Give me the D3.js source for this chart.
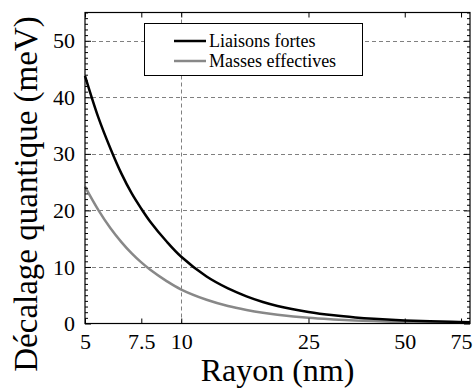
<!DOCTYPE html>
<html>
<head>
<meta charset="utf-8">
<script src="https://cdn.jsdelivr.net/npm/d3@7"></script>
<style>
  html, body { margin: 0; padding: 0; background: #fff; }
  svg { display: block; }
</style>
</head>
<body>
<svg id="chart" width="476" height="388"></svg>
<script>
// ---- data ----
const radius = [5, 5.5, 6, 6.5, 7, 7.5, 8, 9, 10, 12, 14, 16, 18, 20, 25, 30, 35, 40, 50, 60, 70, 80];
const liaisonsFortes = [43.8, 36.5, 31.0, 26.5, 23.0, 20.3, 18.0, 14.5, 11.8, 8.3, 6.2, 4.8, 3.8, 3.1, 2.05, 1.45, 1.08, 0.84, 0.55, 0.39, 0.29, 0.23];
const massesEffectives = [24.2, 20.1, 16.9, 14.4, 12.4, 10.8, 9.5, 7.5, 6.0, 4.2, 3.1, 2.4, 1.9, 1.55, 1.0, 0.72, 0.54, 0.42, 0.27, 0.19, 0.14, 0.11];
const seriesNames = ["Liaisons fortes", "Masses effectives"];
const seriesColors = ["#000000", "#888888"];
const xTicks = [5, 7.5, 10, 25, 50, 75];
const xTickLabels = ["5", "7.5", "10", "25", "50", "75"];
const yTicks = [0, 10, 20, 30, 40, 50];
const xGrid = [10];
const yGrid = [10, 20, 30, 40, 50];
const xLabel = "Rayon (nm)";
const yLabel = "Décalage quantique (meV)";

// ---- layout ----
const L = 85, R = 470, T = 12.5, B = 323.5;
const FONT = "'Liberation Serif'";
const svg = d3.select("#chart");

const x = d3.scaleLog().domain([5, 80]).range([L, R]);
const y = d3.scaleLinear().domain([0, 55]).range([B, T]);

// grid
const grid = svg.append("g").attr("stroke", "#808080").attr("stroke-width", 1).attr("stroke-dasharray", "4,3");
grid.selectAll("line.gy").data(yGrid).join("line")
  .attr("x1", L).attr("x2", R).attr("y1", d => Math.round(y(d)) + 0.5).attr("y2", d => Math.round(y(d)) + 0.5);
grid.selectAll("line.gx").data(xGrid).join("line")
  .attr("y1", T).attr("y2", B).attr("x1", d => Math.round(x(d)) + 0.5).attr("x2", d => Math.round(x(d)) + 0.5);

// curves
const line = d3.line().x(d => x(d[0])).y(d => y(d[1])).curve(d3.curveCatmullRom.alpha(0.5));
const series = [liaisonsFortes, massesEffectives];
[1, 0].forEach(i => {
  svg.append("path")
    .datum(radius.map((r, k) => [r, series[i][k]]))
    .attr("fill", "none")
    .attr("stroke", seriesColors[i])
    .attr("stroke-width", 2.5)
    .attr("d", line);
});

// axes (ticks inward)
const minorY = d3.range(0, 56, 1).filter(v => v % 10 !== 0);
const axL = d3.axisLeft(y).tickValues(yTicks).tickSize(-6).tickPadding(10).tickFormat(d3.format("d"));
const axLm = d3.axisLeft(y).tickValues(minorY).tickSize(-3).tickFormat("");
const axR = d3.axisRight(y).tickValues(yTicks).tickSize(-6).tickFormat("");
const axRm = d3.axisRight(y).tickValues(minorY).tickSize(-3).tickFormat("");
const axB = d3.axisBottom(x).tickValues(xTicks).tickSize(-5).tickPadding(10).tickFormat((d, i) => xTickLabels[i]);
const axT = d3.axisTop(x).tickValues(xTicks).tickSize(-5).tickFormat("");

function style(g) {
  g.attr("font-family", null);
  g.select(".domain").remove();
  g.selectAll(".tick line").attr("stroke", "#000").attr("stroke-width", 1);
  g.selectAll(".tick text").attr("fill", "#000").style("font-family", FONT).style("font-size", "22px");
}
svg.append("g").attr("transform", `translate(${L},0)`).call(axL).call(style);
svg.append("g").attr("transform", `translate(${L},0)`).call(axLm).call(style);
svg.append("g").attr("transform", `translate(${R},0)`).call(axR).call(style);
svg.append("g").attr("transform", `translate(${R},0)`).call(axRm).call(style);
svg.append("g").attr("transform", `translate(0,${B})`).call(axB).call(style);
svg.append("g").attr("transform", `translate(0,${T})`).call(axT).call(style);

// frame
svg.append("rect").attr("x", L).attr("y", T).attr("width", R - L).attr("height", B - T)
  .attr("fill", "none").attr("stroke", "#000").attr("stroke-width", 1.2);

// legend
const lg = svg.append("g");
lg.append("rect").attr("x", 144.5).attr("y", 23.5).attr("width", 218).attr("height", 52)
  .attr("fill", "#fff").attr("stroke", "#000").attr("stroke-width", 1);
seriesNames.forEach((name, i) => {
  const yy = 41 + i * 20;
  lg.append("line").attr("x1", 174).attr("x2", 206).attr("y1", yy).attr("y2", yy)
    .attr("stroke", seriesColors[i]).attr("stroke-width", 2.5);
  lg.append("text").attr("x", 209).attr("y", yy).attr("dy", "0.33em")
    .style("font-family", FONT).style("font-size", "18px").text(name);
});

// axis labels
svg.append("text").attr("x", (L + R) / 2).attr("y", 381).attr("text-anchor", "middle")
  .style("font-family", FONT).style("font-size", "32px").text(xLabel);
svg.append("text").attr("transform", `translate(37,194) rotate(-90)`).attr("text-anchor", "middle")
  .style("font-family", FONT).style("font-size", "33px").text(yLabel);
</script>
</body>
</html>
